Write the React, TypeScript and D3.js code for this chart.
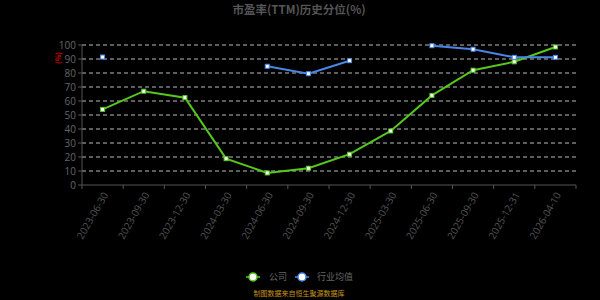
import React from "react";
import * as d3 from "d3";

const categories = ["2023-06-30","2023-09-30","2023-12-30","2024-03-30","2024-06-30","2024-09-30","2024-12-30","2025-03-30","2025-06-30","2025-09-30","2025-12-31","2026-04-10"];
const companyValues: (number | null)[] = [54, 67, 62.4, 18.8, 8.6, 12, 22, 38.6, 64, 82, 88, 98.6];
const industryValues: (number | null)[] = [91.4, null, null, null, 84.8, 79.5, 88.8, null, 99.5, 97, 91.2, 91.2];
const yTicks = [0, 10, 20, 30, 40, 50, 60, 70, 80, 90, 100];

const W = 600, H = 300;
const left = 82, right = 576, top = 45, bottom = 185;

export default function App() {
  const x = d3.scaleBand<string>().domain(categories).range([left, right]);
  const y = d3.scaleLinear().domain([0, 100]).range([bottom, top]);
  const cx = (c: string) => (x(c) as number) + x.bandwidth() / 2;

  const line = d3.line<[string, number | null]>()
    .defined(d => d[1] !== null)
    .x(d => cx(d[0]))
    .y(d => y(d[1] as number));

  const comp = categories.map((c, i) => [c, companyValues[i]] as [string, number | null]);
  const ind = categories.map((c, i) => [c, industryValues[i]] as [string, number | null]);
  const green = "#56c81c";
  const blue = "#4a86e8";
  const tickEdges = [...categories.map(c => x(c) as number), right];

  return (
    <svg width={W} height={H} style={{ position: "absolute", left: 0, top: 0, background: "#000" }}
      fontFamily="'Noto Sans CJK SC', 'Noto Sans', sans-serif">
      <rect width={W} height={H} fill="#000" />
      <text x={299} y={10} dy="0.35em" textAnchor="middle" fontSize={11.5} fontWeight="bold" fill="#555">市盈率(TTM)历史分位(%)</text>
      {yTicks.map(t => (
        <g key={t}>
          {t > 0 && <line x1={left} x2={right} y1={y(t)} y2={y(t)} stroke="#bbb" strokeDasharray="4,3" strokeWidth={1} />}
          <line x1={left - 4} x2={left} y1={y(t)} y2={y(t)} stroke="#555" />
          <text x={left - 6} y={y(t)} dy="0.35em" textAnchor="end" fontSize={10} fill="#666" fontFamily="'Open Sans', sans-serif">{t}</text>
        </g>
      ))}
      <line x1={left} x2={left} y1={top} y2={bottom} stroke="#555" />
      <line x1={left} x2={right} y1={bottom} y2={bottom} stroke="#555" />
      {tickEdges.map((t, i) => (
        <line key={i} x1={t} x2={t} y1={bottom} y2={bottom + 4} stroke="#555" />
      ))}
      {categories.map(c => (
        <text key={c} transform={`translate(${cx(c) + 3},${bottom + 8}) rotate(-60)`} textAnchor="end" dy="0.35em" fontSize={10} fill="#555" fontFamily="'Open Sans', sans-serif">{c}</text>
      ))}
      <text transform={`translate(59,58) rotate(-90)`} textAnchor="middle" dy="0.35em" fontSize={7} fill="#d00" fontWeight="bold">(%)</text>
      <path d={line(comp) || ""} fill="none" stroke={green} strokeWidth={2} />
      <path d={line(ind) || ""} fill="none" stroke={blue} strokeWidth={2} />
      {comp.filter(d => d[1] !== null).map(d => (
        <rect key={"c" + d[0]} x={cx(d[0]) - 2} y={y(d[1] as number) - 2} width={4} height={4} fill="#fff" stroke={green} strokeWidth={1} />
      ))}
      {ind.filter(d => d[1] !== null).map(d => (
        <rect key={"i" + d[0]} x={cx(d[0]) - 2} y={y(d[1] as number) - 2} width={4} height={4} fill="#fff" stroke={blue} strokeWidth={1} />
      ))}
      <g>
        <line x1={246} x2={260} y1={277} y2={277} stroke={green} strokeWidth={1.5} />
        <circle cx={253} cy={277} r={4} fill="#fff" stroke={green} strokeWidth={1.5} />
        <text x={269} y={277} dy="0.35em" fontSize={9} fill="#666">公司</text>
        <line x1={295} x2={309} y1={277} y2={277} stroke={blue} strokeWidth={1.5} />
        <circle cx={302} cy={277} r={4} fill="#fff" stroke={blue} strokeWidth={1.5} />
        <text x={317} y={277} dy="0.35em" fontSize={9} fill="#666">行业均值</text>
      </g>
      <text x={299} y={296} textAnchor="middle" fontSize={7} fill="#c8961e">制图数据来自恒生聚源数据库</text>
    </svg>
  );
}
